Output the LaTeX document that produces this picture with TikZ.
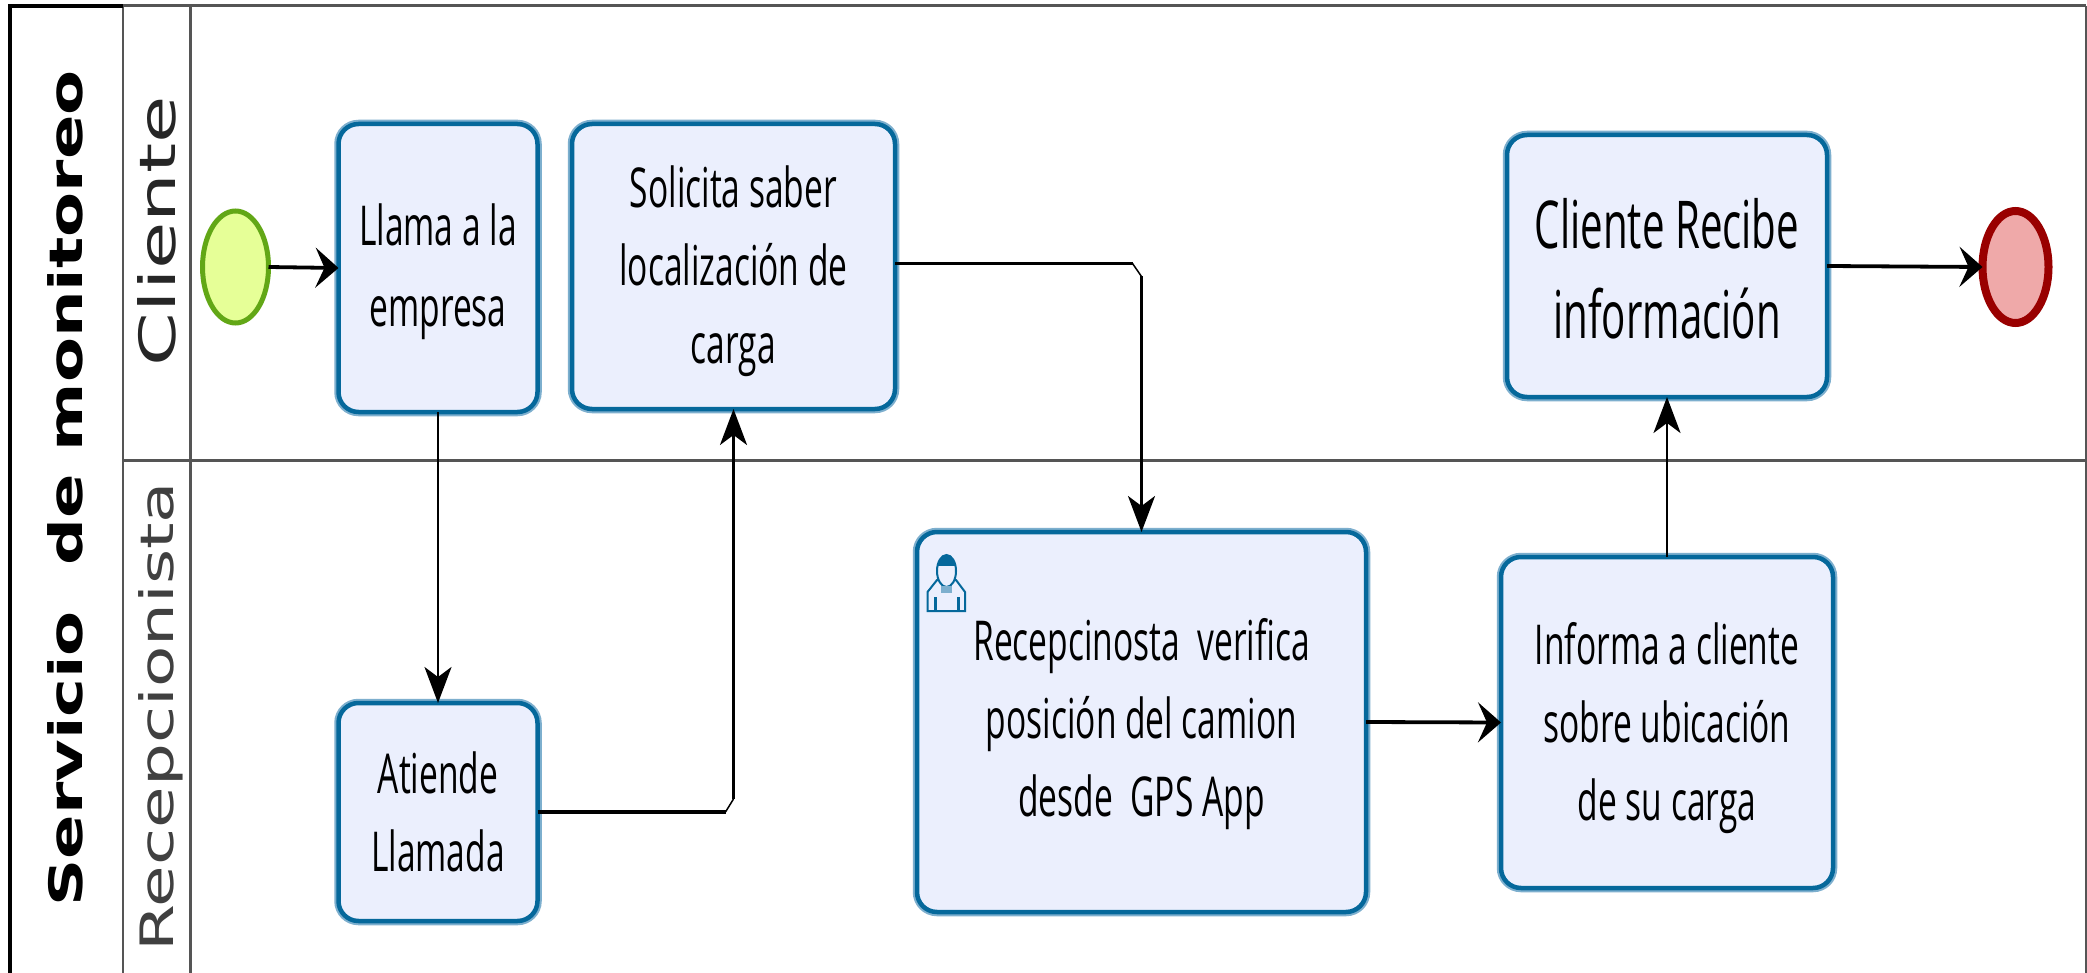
\documentclass[tikz,border=0pt]{standalone}
\usepackage{fontspec}
\usetikzlibrary{arrows.meta,shapes.geometric}
\newfontfamily\taskfont[FakeStretch=0.61]{Open Sans}
\newfontfamily\poolfont[FakeStretch=1.425]{DejaVu Sans}
\newfontfamily\clientefont[FakeStretch=1.54]{DejaVu Sans}
\newfontfamily\recepfont[FakeStretch=1.47]{DejaVu Sans}
\newcommand{\firstlift}[1]{\rule{0pt}{#1pt}}
\definecolor{taskfill}{HTML}{EBEFFD}
\definecolor{taskline}{HTML}{05689B}
\definecolor{taskhalo}{HTML}{7DAFCE}
\definecolor{frameline}{HTML}{555555}
\definecolor{startfill}{HTML}{E6FF97}
\definecolor{startline}{HTML}{62A716}
\definecolor{endfill}{HTML}{EFA9A9}
\definecolor{endline}{HTML}{990000}
\tikzset{
  taskbox/.style={rectangle,rounded corners=20pt,fill=taskfill,draw=taskline,line width=4.5pt,
    preaction={draw=taskhalo,line width=8.5pt},
    inner sep=0pt,outer sep=0pt,align=center,
    font=\taskfont\fontsize{55}{78}\selectfont},
  widegap/.style={font=\taskfont\fontsize{55}{81}\selectfont},
  bigtask/.style={font=\taskfont\fontsize{66}{90}\selectfont},
  startev/.style={ellipse,fill=startfill,draw=startline,line width=5pt,inner sep=0pt,outer sep=0pt,
    minimum width=66pt,minimum height=112pt},
  endev/.style={ellipse,fill=endfill,draw=endline,line width=8pt,inner sep=0pt,outer sep=0pt,
    minimum width=66pt,minimum height=112pt},
  hflow/.style={draw=black,line width=3.8pt,-{Stealth[length=23pt,width=40pt,inset=9pt]}},
  vflow/.style={draw=black,line width=2.6pt,-{Stealth[length=36pt,width=27pt,inset=10pt]}},
  hseg/.style={draw=black,line width=3.8pt},
  bendseg/.style={draw=black,line width=1.5pt},
  framestroke/.style={draw=frameline,line width=3pt},
  outerstroke/.style={draw=black,line width=3.5pt},
  pooltext/.style={rotate=90,anchor=base,inner sep=0pt,font=\poolfont\bfseries\fontsize{46}{50}\selectfont},
  clientetext/.style={rotate=90,anchor=base,inner sep=0pt,text=black!85,font=\clientefont\fontsize{50}{54}\selectfont},
  receptext/.style={rotate=90,anchor=base,inner sep=0pt,text=black!75,font=\recepfont\fontsize{46}{50}\selectfont},
  iconline/.style={draw=taskline,line width=2pt,fill=none},
}
\begin{document}
\begin{tikzpicture}[x=1pt,y=-1pt]
\useasboundingbox (0,0) rectangle (2087,973);
\fill[white] (0,0) rectangle (2087,973);
% frame
\draw[framestroke] (123,6) -- (2086,6);
\draw[framestroke] (2086,6) -- (2086,973);
\draw[framestroke] (123,460) -- (2086,460);
\draw[framestroke,line width=2.5pt] (123,6) -- (123,973);
\draw[framestroke] (190.5,6) -- (190.5,973);
\draw[outerstroke] (123,6) -- (10,6) -- (10,973);
% titles
\node[pooltext] (pool) at (82,488.5) {Servicio\ \ de monitoreo};
\node[clientetext] (cliente) at (175,231) {Cliente};
\node[receptext] (recep) at (173,716.5) {Recepcionista};
% events and tasks
\node[startev] (start) at (235.5,267) {};
\node[endev] (end) at (2015.5,267) {};
\node[taskbox,widegap,minimum width=199pt,minimum height=288pt] (llama) at (438,268) {\firstlift{50}Llama a la\\empresa};
\node[taskbox,minimum width=323pt,minimum height=285pt] (solicita) at (733.5,266.5) {\firstlift{52}Solicita saber\\localización de\\carga};
\node[taskbox,bigtask,minimum width=320pt,minimum height=262pt] (recibe) at (1667,266) {\firstlift{56}Cliente Recibe\\información};
\node[taskbox,minimum width=449pt,minimum height=380pt] (verifica) at (1141.5,722) {\firstlift{46}Recepcinosta\ \ verifica\\posición del camion\\desde\ \ GPS App};
\node[taskbox,minimum width=332pt,minimum height=331pt] (informa) at (1667,722.5) {\firstlift{54}Informa a cliente\\sobre ubicación\\de su carga};
\node[taskbox,minimum width=199pt,minimum height=218pt] (atiende) at (438,812) {\firstlift{42}Atiende\\Llamada};
% user icon
\draw[iconline] (927.5,611) -- (927.5,592) -- (937,580) -- (956,580) -- (965,592) -- (965,611) -- cycle;
\fill[taskfill] (946.5,571) ellipse (10 and 16);
\draw[iconline] (946.5,571) ellipse (9.5 and 16);
\begin{scope}
\clip (930,550) rectangle (965,565);
\fill[taskline] (946.5,571) ellipse (9.5 and 16);
\end{scope}
\fill[taskhalo] (941,586) rectangle (952,593);
\draw[taskline,line width=3pt] (935.5,597) -- (935.5,611);
\draw[taskline,line width=3pt] (958,597) -- (958,611);
% connectors
\coordinate (bendA) at ([yshift=3pt]solicita.east -| verifica.north);
\coordinate (bendB) at (atiende.east -| solicita.south);
\draw[hflow] (start.east) -- (llama.west);
\draw[vflow] (llama.south) -- (atiende.north);
\draw[hseg] (atiende.east) -- ([xshift=-8pt]bendB);
\draw[bendseg] ([xshift=-8pt]bendB) -- ([yshift=13pt]bendB);
\draw[vflow] ([yshift=13pt]bendB) -- (solicita.south);
\draw[hseg] ([yshift=3pt]solicita.east) -- ([xshift=-9pt]bendA);
\draw[bendseg] ([xshift=-9pt]bendA) -- ([yshift=-13pt]bendA);
\draw[vflow] ([yshift=-13pt]bendA) -- (verifica.north);
\draw[hflow] (verifica.east) -- (informa.west);
\draw[vflow] (informa.north) -- (recibe.south);
\draw[hflow] (recibe.east) -- (end.west);
\end{tikzpicture}
\end{document}
